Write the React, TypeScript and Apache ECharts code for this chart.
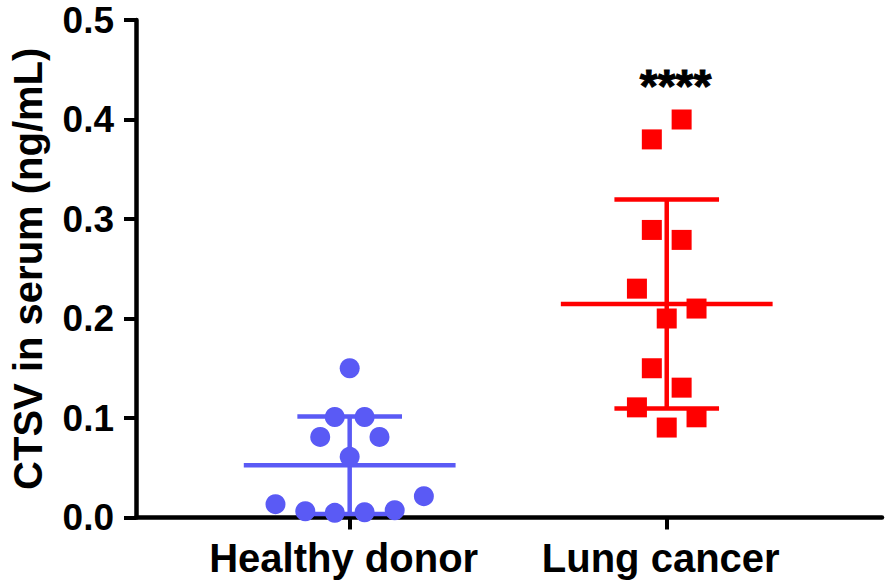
import React, { useEffect, useRef } from "react";
import * as echarts from "echarts";

// ---- data ----
const categories = ["Healthy donor", "Lung cancer"];
const yTicks = [0, 0.1, 0.2, 0.3, 0.4, 0.5];

const healthyValues = [0.150, 0.101, 0.101, 0.081, 0.081, 0.061, 0.0134, 0.0063, 0.0047, 0.0053, 0.0073, 0.0214];
const healthyJitter = [0, -0.047, 0.047, -0.093, 0.094, 0, -0.234, -0.14, -0.047, 0.047, 0.142, 0.234];

const cancerValues = [0.40, 0.38, 0.289, 0.279, 0.230, 0.200, 0.210, 0.150, 0.1305, 0.1107, 0.1007, 0.0904];
const cancerJitter = [0.047, -0.047, -0.047, 0.047, -0.094, 0, 0.094, -0.047, 0.047, -0.094, 0.094, 0];

const groupMeans = [0.0525, 0.2145];
const groupSD = [0.049, 0.105];

const significance = "****";
const significanceAt = [2.028, 0.434];

const BLUE = "#5a5af5";
const RED = "#ff0000";
const FONT = "'Liberation Sans', Arial, Helvetica, sans-serif";

function segment(pts: number[][], color: string) {
  return {
    type: "line",
    data: pts,
    symbol: "none",
    silent: true,
    z: 1,
    lineStyle: { color, width: 4.5, cap: "butt" },
  };
}

function errorBars(gx: number, mean: number, sd: number, color: string) {
  const mh = 0.334;
  const ch = 0.165;
  const lo = mean - sd;
  const hi = mean + sd;
  return [
    segment([[gx - mh, mean], [gx + mh, mean]], color),
    segment([[gx - ch, hi], [gx + ch, hi]], color),
    segment([[gx - ch, lo], [gx + ch, lo]], color),
    segment([[gx, lo], [gx, hi]], color),
  ];
}

export default function App() {
  const ref = useRef<HTMLDivElement>(null);
  useEffect(() => {
    document.body.style.margin = "0";
    if (!ref.current) return;
    const chart = echarts.init(ref.current, undefined, { renderer: "svg" });
    const colors = [BLUE, RED];
    const series: any[] = [];
    groupMeans.forEach((m, i) => {
      series.push(...errorBars(i + 1, m, groupSD[i], colors[i]));
    });
    series.push({
      type: "scatter",
      symbol: "circle",
      symbolSize: 20,
      z: 3,
      itemStyle: { color: BLUE, opacity: 1 },
      data: healthyValues.map((v, i) => [1 + healthyJitter[i], v]),
    });
    series.push({
      type: "scatter",
      symbol: "rect",
      symbolSize: 20,
      z: 3,
      itemStyle: { color: RED, opacity: 1 },
      data: cancerValues.map((v, i) => [2 + cancerJitter[i], v]),
    });
    series.push({
      type: "scatter",
      symbolSize: 0,
      silent: true,
      z: 4,
      data: [significanceAt],
      label: {
        show: true,
        position: "inside",
        formatter: significance,
        color: "#000000",
        opacity: 1,
        textBorderColor: "#000000",
        textBorderWidth: 1,
        fontFamily: FONT,
        fontWeight: "bold",
        fontSize: 46,
      },
    });

    chart.setOption({
      animation: false,
      backgroundColor: "#ffffff",
      grid: { left: 135, right: 4, top: 20, bottom: 70.5, containLabel: false },
      xAxis: {
        type: "value",
        min: 0.326,
        max: 2.679,
        splitLine: { show: false },
        axisLine: { show: true, lineStyle: { color: "#000", width: 4.5 } },
        axisTick: {
          show: true,
          customValues: [1, 2],
          length: 12,
          lineStyle: { color: "#000", width: 4 },
        },
        axisLabel: {
          show: true,
          customValues: [1, 2],
          formatter: (v: number) => categories[Math.round(v) - 1] ?? "",
          margin: 20,
          padding: [0, 12, 0, 0],
          color: "#000",
          fontFamily: FONT,
          fontWeight: "bold",
          fontSize: 40,
        },
      },
      yAxis: {
        type: "value",
        min: yTicks[0],
        max: yTicks[yTicks.length - 1],
        interval: 0.1,
        splitLine: { show: false },
        axisLine: { show: true, lineStyle: { color: "#000", width: 4.5 } },
        axisTick: { show: true, length: 12, lineStyle: { color: "#000", width: 4 } },
        axisLabel: {
          margin: 22,
          color: "#000",
          fontFamily: FONT,
          fontWeight: "bold",
          fontSize: 37,
          formatter: (v: number) => v.toFixed(1),
        },
        name: "CTSV in serum (ng/mL)",
        nameLocation: "middle",
        nameGap: 88,
        nameTextStyle: {
          color: "#000",
          fontFamily: FONT,
          fontWeight: "bold",
          fontSize: 40,
        },
      },
      series,
    });
    return () => chart.dispose();
  }, []);
  return <div ref={ref} style={{ width: 886, height: 588 }} />;
}
